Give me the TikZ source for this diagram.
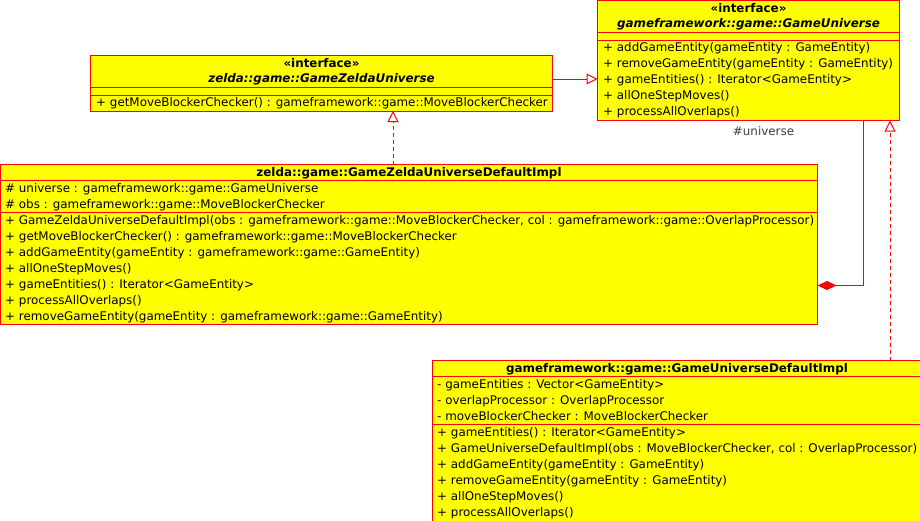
\documentclass[tikz,border=0pt]{standalone}
\usepackage{fontspec}
\setmainfont{DejaVu Sans}
\usetikzlibrary{arrows.meta}
\definecolor{umlfill}{RGB}{255,255,0}
\definecolor{umlline}{RGB}{255,0,0}
\definecolor{lblgray}{RGB}{60,60,60}
\newcommand{\umlfont}{\fontsize{11.9}{14}\selectfont}
\tikzset{
  umlbox/.style={draw=umlline, fill=umlfill, line width=1pt, inner sep=0pt, outer sep=0pt, anchor=north west, rectangle},
  sepline/.style={draw=umlline, line width=1pt},
  txt/.style={font=\umlfont, anchor=base west, inner sep=0pt, text=black},
  ttl/.style={font=\umlfont\bfseries, anchor=base, inner sep=0pt, text=black},
  ittl/.style={font=\umlfont\bfseries\itshape, anchor=base, inner sep=0pt, text=black},
  conn/.style={draw=umlline, line width=1pt},
  dashconn/.style={conn, dash pattern=on 4pt off 3pt},
  opentri/.style={-{Triangle[open, length=11pt, width=11pt, fill=white]}},
  compdiamond/.style={-{Diamond[length=19pt, width=9pt, fill=umlline]}},
}
\begin{document}
\begin{tikzpicture}[x=1pt, y=-1pt]
\useasboundingbox (0,0) rectangle (920,520);
\clip (0,0) rectangle (920,520);

% ---------- GameUniverse (interface) ----------
\node[umlbox, minimum width=302pt, minimum height=120pt] (gu) at (597.5,0.5) {};
\draw[sepline] (597.5,32.5) -- (899.5,32.5);
\draw[sepline] (597.5,40.5) -- (899.5,40.5);
\node[ttl] (guS) at (748.5,12.5) {«interface»};
\node[ittl] (guN) at (748.5,27.5) {gameframework::game::GameUniverse};
\node[txt] (guo1) at (603,51.5) {+ addGameEntity(gameEntity : GameEntity)};
\node[txt] (guo2) at (603,67.5) {+ removeGameEntity(gameEntity : GameEntity)};
\node[txt] (guo3) at (603,83.5) {+ gameEntities() : Iterator<GameEntity>};
\node[txt] (guo4) at (603,99.5) {+ allOneStepMoves()};
\node[txt] (guo5) at (603,115.5) {+ processAllOverlaps()};

% ---------- GameZeldaUniverse (interface) ----------
\node[umlbox, minimum width=462pt, minimum height=56pt] (gzu) at (90.5,55) {};
\draw[sepline] (90.5,87) -- (552.5,87);
\draw[sepline] (90.5,95) -- (552.5,95);
\node[ttl] (gzuS) at (321.5,67) {«interface»};
\node[ittl] (gzuN) at (321.5,82) {zelda::game::GameZeldaUniverse};
\node[txt] (gzuo1) at (96,106.5) {+ getMoveBlockerChecker() : gameframework::game::MoveBlockerChecker};

% ---------- GameZeldaUniverseDefaultImpl ----------
\node[umlbox, minimum width=817pt, minimum height=160pt] (gzdi) at (0.5,164.5) {};
\draw[sepline] (0.5,180.5) -- (817.5,180.5);
\draw[sepline] (0.5,212.5) -- (817.5,212.5);
\node[ttl] (gzdiN) at (409,176.5) {zelda::game::GameZeldaUniverseDefaultImpl};
\node[txt] (gzdia1) at (5,192) {\# universe : gameframework::game::GameUniverse};
\node[txt] (gzdia2) at (5,208) {\# obs : gameframework::game::MoveBlockerChecker};
\node[txt] (gzdio1) at (5,224) {+ GameZeldaUniverseDefaultImpl(obs : gameframework::game::MoveBlockerChecker, col : gameframework::game::OverlapProcessor)};
\node[txt] (gzdio2) at (5,240) {+ getMoveBlockerChecker() : gameframework::game::MoveBlockerChecker};
\node[txt] (gzdio3) at (5,256) {+ addGameEntity(gameEntity : gameframework::game::GameEntity)};
\node[txt] (gzdio4) at (5,272) {+ allOneStepMoves()};
\node[txt] (gzdio5) at (5,288) {+ gameEntities() : Iterator<GameEntity>};
\node[txt] (gzdio6) at (5,304) {+ processAllOverlaps()};
\node[txt] (gzdio7) at (5,320) {+ removeGameEntity(gameEntity : gameframework::game::GameEntity)};

% ---------- GameUniverseDefaultImpl ----------
\node[umlbox, minimum width=489pt, minimum height=170pt] (gudi) at (432.5,360.5) {};
\draw[sepline] (432.5,376.5) -- (921.5,376.5);
\draw[sepline] (432.5,424.5) -- (921.5,424.5);
\node[ttl] (gudiN) at (677,372) {gameframework::game::GameUniverseDefaultImpl};
\node[txt] (gudia1) at (437,388) {- gameEntities : Vector<GameEntity>};
\node[txt] (gudia2) at (437,404) {- overlapProcessor : OverlapProcessor};
\node[txt] (gudia3) at (437,420) {- moveBlockerChecker : MoveBlockerChecker};
\node[txt] (gudio1) at (437,436) {+ gameEntities() : Iterator<GameEntity>};
\node[txt] (gudio2) at (437,452) {+ GameUniverseDefaultImpl(obs : MoveBlockerChecker, col : OverlapProcessor)};
\node[txt] (gudio3) at (437,468) {+ addGameEntity(gameEntity : GameEntity)};
\node[txt] (gudio4) at (437,484) {+ removeGameEntity(gameEntity : GameEntity)};
\node[txt] (gudio5) at (437,500) {+ allOneStepMoves()};
\node[txt] (gudio6) at (437,516) {+ processAllOverlaps()};

% ---------- connectors ----------
% GameZeldaUniverse extends GameUniverse
\draw[conn, opentri] ([yshift=4pt]gzu.east) -- ([yshift=4pt]gzu.east -| gu.west);
% GameZeldaUniverseDefaultImpl realizes GameZeldaUniverse
\coordinate (gzdiTop) at (393,164.5);
\draw[dashconn, opentri] (gzdiTop) -- (gzdiTop |- gzu.south);
% GameUniverseDefaultImpl realizes GameUniverse
\coordinate (gudiTop) at (890,360.5);
\draw[dashconn, opentri] (gudiTop) -- (gudiTop |- gu.south);
% composition: GameZeldaUniverseDefaultImpl owns #universe
\coordinate (compTop) at (863,120.5);
\coordinate (compEnd) at (817.5,285.5);
\draw[conn, compdiamond] (compTop) |- (compEnd);
\node[font=\umlfont, text=lblgray, anchor=base, inner sep=0pt] (role) at (763.5,135) {\#universe};
\end{tikzpicture}
\end{document}
